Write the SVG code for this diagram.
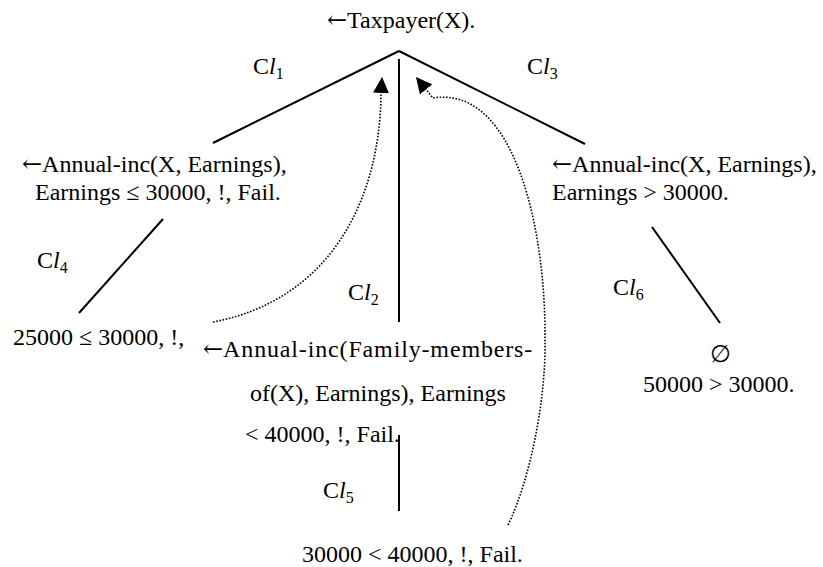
<svg xmlns="http://www.w3.org/2000/svg" width="823" height="567" viewBox="0 0 823 567" font-family="'Liberation Serif', 'Times New Roman', 'DejaVu Serif', serif" font-size="24">
<style>
.sub{font-size:16px}
.it{font-style:italic}
.arr{font-family:'DejaVu Serif',serif}
.edge{stroke:#000;stroke-width:2;fill:none}
.dot{stroke:#000;stroke-width:1.6;fill:none;stroke-dasharray:1.6 1.6}
</style>
<defs>
<marker id="ah" viewBox="0 0 16 16" refX="16" refY="8" markerWidth="16" markerHeight="16" markerUnits="userSpaceOnUse" orient="auto">
<path d="M0,0 L16,8 L0,16 z" fill="#000"/>
</marker>
</defs>
<rect width="823" height="567" fill="#fff"/>
<g id="connectors">
<line class="edge" x1="399" y1="51" x2="213" y2="143"/>
<line class="edge" x1="399" y1="51" x2="585" y2="144"/>
<line class="edge" x1="399" y1="59" x2="399" y2="322"/>
<line class="edge" x1="163" y1="219" x2="79" y2="313"/>
<line class="edge" x1="652" y1="227" x2="720" y2="323"/>
<line class="edge" x1="399" y1="435" x2="399" y2="511"/>
<path class="dot" d="M213,322 C330,300 380,200 381,94 L382,77" marker-end="url(#ah)"/>
<path class="dot" d="M508,525 C530,480 546,400 545,340 C546,230 515,85 433,98 L416,77" marker-end="url(#ah)"/>
<text x="253" y="74">C<tspan class="it">l</tspan><tspan class="sub" dy="5">1</tspan></text>
<text x="527" y="74">C<tspan class="it">l</tspan><tspan class="sub" dy="5">3</tspan></text>
<text x="37" y="268">C<tspan class="it">l</tspan><tspan class="sub" dy="5">4</tspan></text>
<text x="348" y="300">C<tspan class="it">l</tspan><tspan class="sub" dy="5">2</tspan></text>
<text x="323" y="498">C<tspan class="it">l</tspan><tspan class="sub" dy="5">5</tspan></text>
<text x="613" y="295">C<tspan class="it">l</tspan><tspan class="sub" dy="5">6</tspan></text>
</g>
<g id="root">
<text x="327" y="28"><tspan class="arr">←</tspan>Taxpayer(X).</text>
</g>
<g id="left">
<text x="22" y="172"><tspan class="arr">←</tspan>Annual-inc(X, Earnings),</text>
<text x="35" y="200">Earnings ≤ 30000, !, Fail.</text>
</g>
<g id="left-leaf">
<text x="13" y="345">25000 ≤ 30000, !,</text>
</g>
<g id="middle">
<text x="203" y="357"><tspan class="arr">←</tspan><tspan letter-spacing="0.85">Annual-inc(Family-members-</tspan></text>
<text x="250" y="401">of(X), Earnings), Earnings</text>
<text x="245" y="442">&lt; 40000, !, Fail.</text>
</g>
<g id="middle-leaf">
<text x="302" y="562">30000 &lt; 40000, !, Fail.</text>
</g>
<g id="right">
<text x="552" y="172"><tspan class="arr">←</tspan>Annual-inc(X, Earnings),</text>
<text x="552" y="200">Earnings &gt; 30000.</text>
</g>
<g id="right-leaf">
<text x="720" y="362" text-anchor="middle">∅</text>
<text x="643" y="392">50000 &gt; 30000.</text>
</g>
</svg>
